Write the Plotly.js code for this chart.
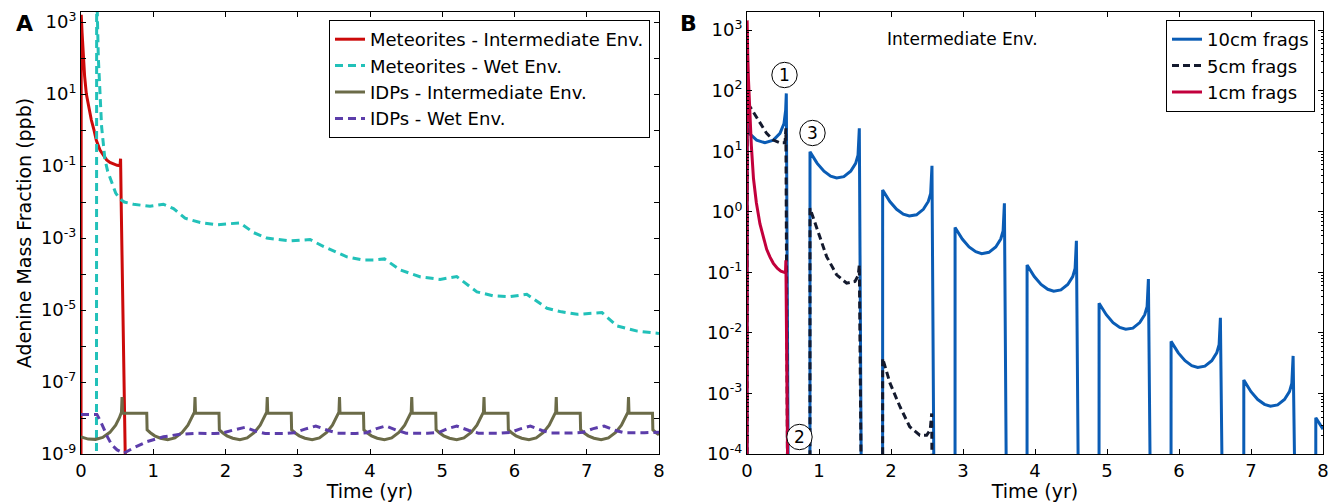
<!DOCTYPE html>
<html>
<head>
<meta charset="utf-8">
<script src="https://cdn.plot.ly/plotly-3.0.1.min.js"></script>
<style>html,body{margin:0;padding:0;background:#fff;}#chart{width:1338px;height:502px;}</style>
</head>
<body>
<div id="chart"></div>
<script>
// ---------------- Panel A data ----------------
const metIntT = [0, 0.003, 0.015, 0.03, 0.05, 0.074, 0.1, 0.143, 0.18, 0.212, 0.263, 0.31, 0.355, 0.4, 0.45, 0.5, 0.54, 0.548, 0.556, 0.565, 0.58, 0.595, 0.61, 0.62];
const metIntV = [1e-10, 1585, 501, 100, 31.6, 10, 5.0, 1.9, 1.0, 0.52, 0.28, 0.2, 0.148, 0.126, 0.112, 0.105, 0.102, 0.16, 0.01, 5e-4, 3.2e-6, 1e-7, 1e-9, 1e-10];

const metWetT = [0.214, 0.217, 0.225, 0.24, 0.255, 0.265, 0.285, 0.31, 0.33, 0.37, 0.42, 0.48, 0.54, 0.6, 0.725, 0.955, 1.14, 1.28, 1.44, 1.65, 1.88, 2.02, 2.2, 2.39, 2.57, 2.9, 3.17, 3.36, 3.68, 3.9, 4.05, 4.2, 4.42, 4.7, 4.97, 5.2, 5.48, 5.7, 5.94, 6.17, 6.45, 6.65, 6.87, 7.21, 7.42, 7.7, 8.0];
const metWetV = [1e-10, 1e5, 2000, 100, 15.8, 6.3, 1.26, 0.4, 0.158, 0.0708, 0.0355, 0.0178, 0.012, 0.01, 0.0087, 0.0076, 0.0087, 0.0066, 0.00355, 0.0027, 0.00234, 0.00245, 0.00263, 0.00141, 0.001, 0.00083, 0.00091, 5.75e-4, 3.0e-4, 2.45e-4, 2.45e-4, 2.63e-4, 1.29e-4, 8.3e-5, 7.1e-5, 8.5e-5, 3.2e-5, 2.5e-5, 2.35e-5, 2.75e-5, 1.12e-5, 8.9e-6, 7.6e-6, 8.5e-6, 3.6e-6, 2.6e-6, 2.24e-6];

const idpIntT = [0, 0.1, 0.2, 0.3, 0.4, 0.48, 0.53, 0.56, 0.568, 0.575,
  0.91, 0.915, 0.96, 1.02, 1.1, 1.2, 1.3, 1.4, 1.48, 1.53, 1.57, 1.578, 1.585,
  1.91, 1.915, 1.96, 2.02, 2.1, 2.2, 2.3, 2.4, 2.48, 2.53, 2.57, 2.578, 2.585,
  2.91, 2.915, 2.96, 3.02, 3.1, 3.2, 3.3, 3.4, 3.48, 3.53, 3.57, 3.578, 3.585,
  3.91, 3.915, 3.96, 4.02, 4.1, 4.2, 4.3, 4.4, 4.48, 4.53, 4.57, 4.578, 4.585,
  4.91, 4.915, 4.96, 5.02, 5.1, 5.2, 5.3, 5.4, 5.48, 5.53, 5.57, 5.578, 5.585,
  5.91, 5.915, 5.96, 6.02, 6.1, 6.2, 6.3, 6.4, 6.48, 6.53, 6.57, 6.578, 6.585,
  6.91, 6.915, 6.96, 7.02, 7.1, 7.2, 7.3, 7.4, 7.48, 7.53, 7.57, 7.578, 7.585,
  7.91, 7.915, 7.96, 8.0];
const idpIntV = [3.0e-9, 2.6e-9, 2.55e-9, 2.9e-9, 4.0e-9, 6.3e-9, 1.0e-8, 1.45e-8, 3.8e-8, 1.35e-8,
  1.35e-8, 4.7e-9, 3.9e-9, 3.2e-9, 2.75e-9, 2.5e-9, 2.8e-9, 4.0e-9, 6.3e-9, 1.0e-8, 1.45e-8, 3.8e-8, 1.35e-8,
  1.35e-8, 4.7e-9, 3.9e-9, 3.2e-9, 2.75e-9, 2.5e-9, 2.8e-9, 4.0e-9, 6.3e-9, 1.0e-8, 1.45e-8, 3.8e-8, 1.35e-8,
  1.35e-8, 4.7e-9, 3.9e-9, 3.2e-9, 2.75e-9, 2.5e-9, 2.8e-9, 4.0e-9, 6.3e-9, 1.0e-8, 1.45e-8, 3.8e-8, 1.35e-8,
  1.35e-8, 4.7e-9, 3.9e-9, 3.2e-9, 2.75e-9, 2.5e-9, 2.8e-9, 4.0e-9, 6.3e-9, 1.0e-8, 1.45e-8, 3.8e-8, 1.35e-8,
  1.35e-8, 4.7e-9, 3.9e-9, 3.2e-9, 2.75e-9, 2.5e-9, 2.8e-9, 4.0e-9, 6.3e-9, 1.0e-8, 1.45e-8, 3.8e-8, 1.35e-8,
  1.35e-8, 4.7e-9, 3.9e-9, 3.2e-9, 2.75e-9, 2.5e-9, 2.8e-9, 4.0e-9, 6.3e-9, 1.0e-8, 1.45e-8, 3.8e-8, 1.35e-8,
  1.35e-8, 4.7e-9, 3.9e-9, 3.2e-9, 2.75e-9, 2.5e-9, 2.8e-9, 4.0e-9, 6.3e-9, 1.0e-8, 1.45e-8, 3.8e-8, 1.35e-8,
  1.35e-8, 4.7e-9, 3.9e-9, 3.4e-9];

const idpWetT = [0, 0.22, 0.26, 0.31, 0.37, 0.425, 0.5, 0.59, 0.72, 0.91, 1.14, 1.37, 1.6, 1.85, 1.95, 2.1, 2.27, 2.42, 2.55, 2.8, 2.95, 3.1, 3.25, 3.42, 3.55, 3.8, 3.95, 4.08, 4.22, 4.38, 4.5, 4.8, 4.95, 5.07, 5.2, 5.37, 5.5, 5.8, 5.95, 6.08, 6.22, 6.38, 6.5, 6.8, 6.95, 7.08, 7.24, 7.4, 7.52, 7.8, 8.0];
const idpWetV = [1.26e-8, 1.26e-8, 9e-9, 5.1e-9, 2.9e-9, 1.8e-9, 1.3e-9, 1.05e-9, 1.45e-9, 2.2e-9, 3.0e-9, 3.55e-9, 3.75e-9, 3.7e-9, 3.8e-9, 4.6e-9, 5.5e-9, 4.3e-9, 3.7e-9, 3.7e-9, 3.9e-9, 4.9e-9, 6.0e-9, 4.5e-9, 3.8e-9, 3.7e-9, 3.9e-9, 5.0e-9, 6.0e-9, 4.5e-9, 3.8e-9, 3.75e-9, 3.95e-9, 5.0e-9, 6.0e-9, 4.5e-9, 3.8e-9, 3.8e-9, 4.0e-9, 5.0e-9, 6.0e-9, 4.5e-9, 3.85e-9, 3.85e-9, 4.0e-9, 5.0e-9, 6.0e-9, 4.5e-9, 3.9e-9, 3.9e-9, 4.0e-9];

// ---------------- Panel B data ----------------
const frag10T = [0, 0.003, 0.032, 0.134, 0.25, 0.366, 0.458, 0.514, 0.537, 0.546, 0.575,
  0.874, 0.875, 0.925, 0.975, 1.069, 1.162, 1.245, 1.345, 1.44, 1.509, 1.542, 1.56, 1.59,
  1.883, 1.884, 1.934, 1.984, 2.078, 2.171, 2.254, 2.354, 2.449, 2.518, 2.551, 2.569, 2.599,
  2.889, 2.89, 2.94, 2.99, 3.084, 3.177, 3.26, 3.36, 3.455, 3.524, 3.557, 3.575, 3.605,
  3.889, 3.89, 3.94, 3.99, 4.084, 4.177, 4.26, 4.36, 4.455, 4.524, 4.557, 4.575, 4.605,
  4.889, 4.89, 4.94, 4.99, 5.084, 5.177, 5.26, 5.36, 5.455, 5.524, 5.557, 5.575, 5.605,
  5.889, 5.89, 5.94, 5.99, 6.084, 6.177, 6.26, 6.36, 6.455, 6.524, 6.557, 6.575, 6.605,
  6.899, 6.9, 6.95, 7.0, 7.094, 7.187, 7.27, 7.37, 7.465, 7.534, 7.567, 7.585, 7.615,
  7.899, 7.9, 7.95, 8.0];
const frag10V = [1e-8, 28.2, 19.7, 15.3, 13.8, 15.3, 19.7, 28.8, 47.9, 90.2, 1e-5,
  1e-8, 9.77, 7.76, 6.31, 4.68, 3.89, 3.63, 3.8, 4.68, 6.31, 8.61, 24.0, 1e-5,
  1e-8, 2.29, 1.82, 1.48, 1.10, 0.912, 0.851, 0.891, 1.10, 1.48, 2.02, 5.75, 1e-5,
  1e-8, 0.55, 0.437, 0.355, 0.263, 0.219, 0.204, 0.214, 0.263, 0.355, 0.484, 1.38, 1e-5,
  1e-8, 0.132, 0.105, 0.0851, 0.0631, 0.0525, 0.049, 0.0513, 0.0631, 0.0851, 0.116, 0.331, 1e-5,
  1e-8, 0.0309, 0.0245, 0.02, 0.0148, 0.0123, 0.0115, 0.012, 0.0148, 0.02, 0.0272, 0.0776, 1e-5,
  1e-8, 0.00724, 0.00575, 0.00468, 0.00347, 0.00288, 0.00269, 0.00282, 0.00347, 0.00468, 0.00638, 0.0178, 1e-5,
  1e-8, 0.00166, 0.00132, 0.00107, 7.94e-4, 6.61e-4, 6.17e-4, 6.46e-4, 7.94e-4, 0.00107, 0.00146, 0.00417, 1e-5,
  1e-8, 3.98e-4, 3.16e-4, 2.57e-4];

const frag5T = [0, 0.002, 0.042, 0.157, 0.273, 0.366, 0.458, 0.528, 0.54, 0.565,
  0.874, 0.875, 0.968, 1.106, 1.245, 1.384, 1.5, 1.545, 1.56, 1.59,
  1.883, 1.884, 1.986, 2.125, 2.26, 2.40, 2.495, 2.545, 2.565, 2.59];
const frag5V = [1e-8, 63, 54.3, 32.4, 19.7, 15.3, 13.8, 13.8, 24, 1e-5,
  1e-8, 1.14, 0.537, 0.182, 0.0912, 0.0661, 0.0708, 0.089, 0.132, 1e-5,
  1e-8, 0.0038, 0.00148, 6.03e-4, 2.82e-4, 2.04e-4, 2.04e-4, 2.5e-4, 4.68e-4, 1e-8];

const frag1T = [0, 0.002, 0.01, 0.02, 0.04, 0.06, 0.09, 0.13, 0.18, 0.23, 0.273, 0.32, 0.366, 0.42, 0.47, 0.52, 0.535, 0.54, 0.57];
const frag1V = [1e-8, 1450, 398, 158, 39.8, 12.6, 3.55, 1.41, 0.631, 0.355, 0.24, 0.178, 0.141, 0.117, 0.105, 0.1, 0.102, 0.158, 1e-5];

// ---------------- Ticks / labels ----------------
const xTicks = [0, 1, 2, 3, 4, 5, 6, 7, 8];
const yTickValsA = [1e-9, 1e-7, 1e-5, 1e-3, 1e-1, 10, 1000];
const yTickTextA = ['10<sup>-9</sup>', '10<sup>-7</sup>', '10<sup>-5</sup>', '10<sup>-3</sup>', '10<sup>-1</sup>', '10<sup>1</sup>', '10<sup>3</sup>'];
const yMinorValsA = [1e-8, 1e-6, 1e-4, 1e-2, 1, 100];
const yTickValsB = [1e-4, 1e-3, 1e-2, 1e-1, 1, 10, 100, 1000];
const yTickTextB = ['10<sup>-4</sup>', '10<sup>-3</sup>', '10<sup>-2</sup>', '10<sup>-1</sup>', '10<sup>0</sup>', '10<sup>1</sup>', '10<sup>2</sup>', '10<sup>3</sup>'];
const namesA = ['Meteorites - Intermediate Env.', 'Meteorites - Wet Env.', 'IDPs - Intermediate Env.', 'IDPs - Wet Env.'];
const namesB = ['10cm frags', '5cm frags', '1cm frags'];

// ---------------- Layout helpers ----------------
const W = 1338, H = 502;
const fx = p => p / W;
const fy = p => 1 - p / H;
const FONT = 'DejaVu Sans, Bitstream Vera Sans, sans-serif';

const traces = [
  {x: metIntT, y: metIntV, name: namesA[0], mode: 'lines', line: {color: '#cc0a0a', width: 3}, xaxis: 'x', yaxis: 'y', legend: 'legend'},
  {x: metWetT, y: metWetV, name: namesA[1], mode: 'lines', line: {color: '#22c1b9', width: 3, dash: '8px,5px'}, xaxis: 'x', yaxis: 'y', legend: 'legend'},
  {x: idpIntT, y: idpIntV, name: namesA[2], mode: 'lines', line: {color: '#6b6b48', width: 3}, xaxis: 'x', yaxis: 'y', legend: 'legend'},
  {x: idpWetT, y: idpWetV, name: namesA[3], mode: 'lines', line: {color: '#5c3daa', width: 3, dash: '8px,5px'}, xaxis: 'x', yaxis: 'y', legend: 'legend'},
  {x: frag10T, y: frag10V, name: namesB[0], mode: 'lines', line: {color: '#0a5cb5', width: 3}, xaxis: 'x2', yaxis: 'y2', legend: 'legend2'},
  {x: frag5T, y: frag5V, name: namesB[1], mode: 'lines', line: {color: '#141a2e', width: 3, dash: '7px,4px'}, xaxis: 'x2', yaxis: 'y2', legend: 'legend2'},
  {x: frag1T, y: frag1V, name: namesB[2], mode: 'lines', line: {color: '#c2003c', width: 3}, xaxis: 'x2', yaxis: 'y2', legend: 'legend2'}
];

const axCommon = {
  showline: true, linecolor: 'black', linewidth: 1, mirror: 'allticks',
  ticks: 'inside', ticklen: 5, tickwidth: 1, tickcolor: 'black',
  showgrid: false, zeroline: false, automargin: false,
  tickfont: {family: FONT, size: 18, color: 'black'}
};

const layout = {
  width: W, height: H,
  margin: {l: 0, r: 0, t: 0, b: 0},
  paper_bgcolor: 'white', plot_bgcolor: 'white',
  font: {family: FONT, color: 'black'},
  showlegend: true,
  xaxis: Object.assign({}, axCommon, {
    domain: [fx(81), fx(659)], range: [0, 8], tickmode: 'array', tickvals: xTicks,
    title: {text: 'Time (yr)', font: {family: FONT, size: 19, color: 'black'}, standoff: 4},
    anchor: 'y'
  }),
  yaxis: Object.assign({}, axCommon, {
    domain: [fy(454), fy(12)], type: 'log', range: [-9, 3.28],
    tickmode: 'array', tickvals: yTickValsA, ticktext: yTickTextA,
    minor: {ticks: 'inside', ticklen: 5, tickwidth: 1, tickcolor: 'black', tickmode: 'array', tickvals: yMinorValsA, showgrid: false},
    title: {text: 'Adenine Mass Fraction (ppb)', font: {family: FONT, size: 19, color: 'black'}, standoff: 4},
    anchor: 'x'
  }),
  xaxis2: Object.assign({}, axCommon, {
    domain: [fx(747), fx(1323)], range: [0, 8], tickmode: 'array', tickvals: xTicks,
    title: {text: 'Time (yr)', font: {family: FONT, size: 19, color: 'black'}, standoff: 4},
    anchor: 'y2'
  }),
  yaxis2: Object.assign({}, axCommon, {
    domain: [fy(454), fy(12)], type: 'log', range: [-4, 3.3],
    tickmode: 'array', tickvals: yTickValsB, ticktext: yTickTextB,
    minor: {ticks: 'inside', ticklen: 2, tickwidth: 1, tickcolor: 'black', dtick: 'D1', showgrid: false},
    anchor: 'x2'
  }),
  legend: {
    x: fx(650), y: fy(20), xanchor: 'right', yanchor: 'top',
    bgcolor: 'white', bordercolor: 'black', borderwidth: 1,
    font: {family: FONT, size: 18, color: 'black'}, traceorder: 'normal'
  },
  legend2: {
    x: fx(1315), y: fy(20), xanchor: 'right', yanchor: 'top',
    bgcolor: 'white', bordercolor: 'black', borderwidth: 1,
    font: {family: FONT, size: 18, color: 'black'}, traceorder: 'normal'
  },
  annotations: [
    {text: '<b>A</b>', xref: 'paper', yref: 'paper', x: fx(24), y: fy(24), xanchor: 'center', yanchor: 'middle', showarrow: false, font: {family: FONT, size: 22, color: 'black'}},
    {text: '<b>B</b>', xref: 'paper', yref: 'paper', x: fx(688), y: fy(24), xanchor: 'center', yanchor: 'middle', showarrow: false, font: {family: FONT, size: 22, color: 'black'}},
    {text: 'Intermediate Env.', xref: 'paper', yref: 'paper', x: fx(962), y: fy(39), xanchor: 'center', yanchor: 'middle', showarrow: false, font: {family: FONT, size: 17, color: 'black'}},
    {text: '1', xref: 'paper', yref: 'paper', x: fx(784.5), y: fy(75), xanchor: 'center', yanchor: 'middle', showarrow: false, font: {family: FONT, size: 17, color: 'black'}},
    {text: '3', xref: 'paper', yref: 'paper', x: fx(812.5), y: fy(133), xanchor: 'center', yanchor: 'middle', showarrow: false, font: {family: FONT, size: 17, color: 'black'}},
    {text: '2', xref: 'paper', yref: 'paper', x: fx(799.5), y: fy(437), xanchor: 'center', yanchor: 'middle', showarrow: false, font: {family: FONT, size: 17, color: 'black'}}
  ],
  shapes: [
    {type: 'circle', xref: 'paper', yref: 'paper', xsizemode: 'pixel', ysizemode: 'pixel', xanchor: fx(784.5), yanchor: fy(75), x0: -12.7, x1: 12.7, y0: -12.7, y1: 12.7, line: {color: 'black', width: 1}, fillcolor: 'white', layer: 'above'},
    {type: 'circle', xref: 'paper', yref: 'paper', xsizemode: 'pixel', ysizemode: 'pixel', xanchor: fx(812.5), yanchor: fy(133), x0: -12.7, x1: 12.7, y0: -12.7, y1: 12.7, line: {color: 'black', width: 1}, fillcolor: 'white', layer: 'above'},
    {type: 'circle', xref: 'paper', yref: 'paper', xsizemode: 'pixel', ysizemode: 'pixel', xanchor: fx(799.5), yanchor: fy(437), x0: -12.7, x1: 12.7, y0: -12.7, y1: 12.7, line: {color: 'black', width: 1}, fillcolor: 'white', layer: 'above'}
  ]
};

Plotly.newPlot('chart', traces, layout, {displayModeBar: false, staticPlot: true});
</script>
</body>
</html>
